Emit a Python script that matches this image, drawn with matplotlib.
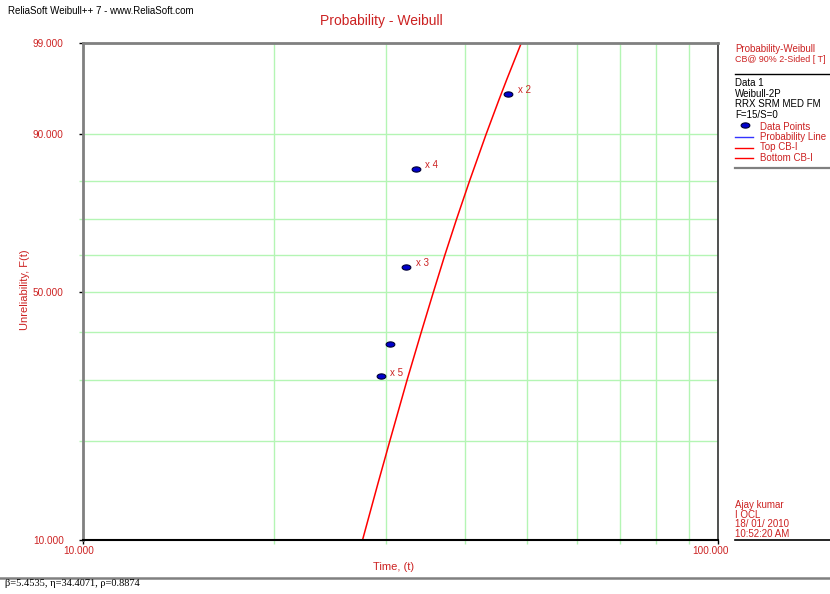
import numpy as np
import matplotlib
matplotlib.use("Agg")
import matplotlib.pyplot as plt
from matplotlib.lines import Line2D
from matplotlib.transforms import ScaledTranslation

# data points: time, unreliability (%), tag
point_times = [46.7, 33.4, 32.3, 30.4, 29.4]
point_unrel = [95.6, 82.9, 56.9, 37.3, 30.7]
point_tags = ["x 2", "x 4", "x 3", "", "x 5"]

# red CB line, read at the grid heights
curve_times = [27.53, 29.13, 30.39, 32.38, 34.07, 35.61, 37.11, 38.72, 40.59,
               43.13, 45.20, 46.53, 47.51, 49.01]
curve_unrel = [10, 15, 20, 30, 40, 50, 60, 70, 80, 90, 95, 97, 98, 99]

y_major = [10, 50, 90, 99]
y_minor = [20, 30, 40, 60, 70, 80]
x_major = [10, 100]
x_minor = [20, 30, 40, 50, 60, 70, 80, 90]

RED = "#cc2222"
GRID = "#b4f5b4"
W, H = 830, 594


def fwd(f):
    f = np.clip(np.asarray(f, dtype=float), 1e-6, 100 - 1e-6)
    return np.log(-np.log(1 - f / 100.0))


def inv(u):
    return 100.0 * (1 - np.exp(-np.exp(u)))


def fx(px):
    return px / W


def fy(py):
    return 1 - py / H


plt.rcParams['font.family'] = ['Liberation Sans', 'DejaVu Sans']

fig = plt.figure(figsize=(8.3, 5.94), dpi=100)
ax = fig.add_axes([fx(83.3), fy(540.3), (718 - 83.3) / W, (540.3 - 42.7) / H])

ax.set_xscale('log')
ax.set_yscale('function', functions=(fwd, inv))
ax.set_xlim(10, 100)
ax.set_ylim(10, 99)

ax.set_xticks(x_major)
ax.set_xticks(x_minor, minor=True)
ax.set_xticklabels(["%.3f" % v for v in x_major])
ax.set_xticklabels([], minor=True)
ax.set_yticks(y_major)
ax.set_yticks(y_minor, minor=True)
ax.set_yticklabels(["%.3f" % v for v in y_major])
ax.set_yticklabels([], minor=True)

ax.grid(True, which='both', color=GRID, lw=1.0)
ax.set_axisbelow(True)

ax.tick_params(which='major', direction='out', length=3, width=1, color='black',
               labelsize=7.2, labelcolor=RED)
ax.tick_params(which='minor', direction='out', length=3, width=1, color=GRID)
ax.tick_params(axis='y', which='major', pad=11)
ax.tick_params(axis='x', which='major', pad=1)

# shift x labels a little left like the original
for lab, dx in zip(ax.get_xticklabels(), [-5, -7]):
    lab.set_transform(lab.get_transform() + ScaledTranslation(dx / 100, 0, fig.dpi_scale_trans))

for side in ['left', 'top']:
    ax.spines[side].set_color('#808080')
    ax.spines[side].set_linewidth(2)
ax.spines['bottom'].set_color('black')
ax.spines['bottom'].set_linewidth(1.5)
ax.spines['right'].set_color('#333333')
ax.spines['right'].set_linewidth(1.2)

ax.plot(curve_times, curve_unrel, color='red', lw=1.1, clip_on=True)

theta = np.linspace(0, 2 * np.pi, 40)
ell = np.column_stack([np.cos(theta), 0.6 * np.sin(theta)])
ax.plot(point_times, point_unrel, ls='none', marker=ell, ms=6.3,
        mfc='#0000cc', mec='#000033', mew=0.8)
for t, f, tag in zip(point_times, point_unrel, point_tags):
    if tag:
        ax.annotate(tag, (t, f), xytext=(7, 2.5), textcoords='offset points',
                    fontsize=7, color=RED, va='center')

# titles and axis labels
fig.text(fx(8), fy(11), "ReliaSoft Weibull++ 7 - www.ReliaSoft.com", fontsize=7,
         color='black', va='center')
fig.text(fx(381), fy(21), "Probability - Weibull", fontsize=10, color=RED,
         ha='center', va='center')
fig.text(fx(25), fy(290), "Unreliability, F(t)", fontsize=8, color=RED,
         rotation=90, ha='center', va='center')
fig.text(fx(394), fy(567), "Time, (t)", fontsize=8, color=RED, ha='center', va='center')

# right side panel
tx = fx(735)
fig.text(tx, fy(49), "Probability-Weibull", fontsize=7, color=RED, va='center')
fig.text(tx, fy(59.5), "CB@ 90% 2-Sided [ T]", fontsize=6.4, color=RED, va='center')
fig.add_artist(Line2D([fx(735), fx(830)], [fy(73.5), fy(73.5)], color='black', lw=1))
for i, s in enumerate(["Data 1", "Weibull-2P", "RRX SRM MED FM", "F=15/S=0"]):
    fig.text(tx, fy(83.3 + 10.5 * i), s, fontsize=7, color='black', va='center')

fig.add_artist(Line2D([fx(745)], [fy(125)], ls='none', marker=ell, ms=6.3,
                      mfc='#0000cc', mec='#000033', mew=0.8))
fig.text(fx(760), fy(126.5), "Data Points", fontsize=7, color=RED, va='center')
for yy, col, s in [(137, '#3333ff', "Probability Line"), (147.5, 'red', "Top CB-I"),
                   (158, 'red', "Bottom CB-I")]:
    fig.add_artist(Line2D([fx(735), fx(753)], [fy(yy), fy(yy)], color=col, lw=1))
    fig.text(fx(760), fy(yy), s, fontsize=7, color=RED, va='center')
fig.add_artist(Line2D([fx(735), fx(830)], [fy(168), fy(168)], color='#808080', lw=1.6))

for i, s in enumerate(["Ajay kumar", "I OCL", "18/ 01/ 2010", "10:52:20 AM"]):
    fig.text(tx, fy(505 + 9.7 * i), s, fontsize=7, color=RED, va='center')
fig.add_artist(Line2D([fx(735), fx(830)], [fy(540), fy(540)], color='black', lw=1.2))

# footer
fig.add_artist(Line2D([0, 1], [fy(578), fy(578)], color='#808080', lw=1.8))
fig.text(fx(5), fy(584), "\u03b2=5.4535, \u03b7=34.4071, \u03c1=0.8874", fontsize=7.5,
         family=['Liberation Serif', 'DejaVu Serif'], color='black', va='center')

fig.savefig("out.png", dpi=100)
